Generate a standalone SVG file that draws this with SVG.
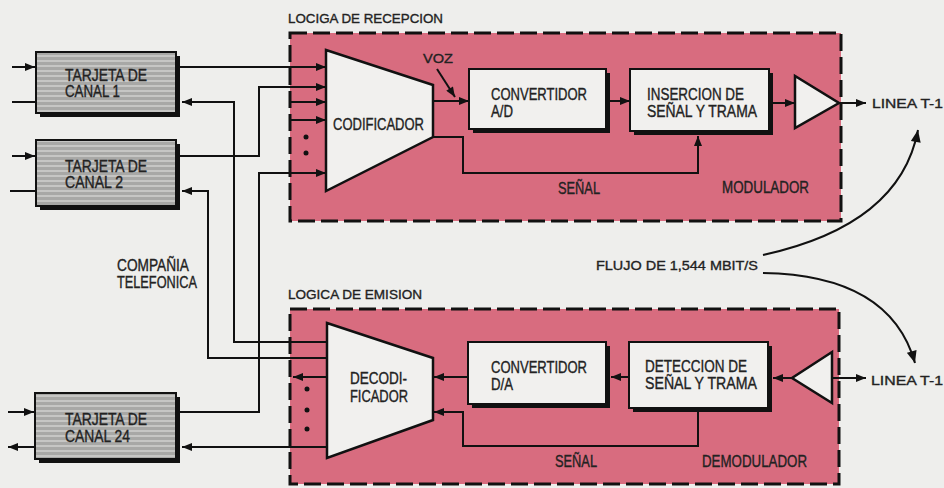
<svg xmlns="http://www.w3.org/2000/svg" width="944" height="488" viewBox="0 0 944 488">
<style>
.t{font-family:"Liberation Sans",Arial,sans-serif;fill:#222;stroke:#222;stroke-width:0.35;font-size:16px}
.h{font-size:13.5px}
.w{stroke:#111;stroke-width:2;fill:none}
.pink{fill:#d86c7f;stroke:#111;stroke-width:3;stroke-dasharray:17 6}
.box{fill:#f1f0ee;stroke:#111;stroke-width:2}
.sh{fill:#111}
.card{fill:url(#stripes);stroke:#111;stroke-width:2}
.tri{fill:#f1f0ee;stroke:#111;stroke-width:2.5}
.dot{fill:#111}
</style>
<defs>
<pattern id="stripes" width="8" height="5" patternUnits="userSpaceOnUse">
<rect width="8" height="5" fill="#a8a8a6"/>
<rect y="0" width="8" height="2" fill="#c6c6c4"/>
</pattern>
<marker id="a" viewBox="0 0 10 8" refX="10" refY="4" markerWidth="11" markerHeight="8" markerUnits="userSpaceOnUse" orient="auto">
<path d="M0,0 L10,4 L0,8 z" fill="#111"/>
</marker>
<marker id="b" viewBox="0 0 12 10" refX="12" refY="5" markerWidth="14" markerHeight="10" markerUnits="userSpaceOnUse" orient="auto">
<path d="M0,0 L12,5 L0,10 z" fill="#111"/>
</marker>
</defs>
<rect width="944" height="488" fill="#eeeeec"/>

<g id="recepcion">
<rect class="pink" x="290" y="33" width="551" height="188"/>
<text class="t h" x="288" y="23" textLength="155" lengthAdjust="spacingAndGlyphs">LOCIGA DE RECEPCION</text>
<text class="t" x="558" y="194" textLength="42" lengthAdjust="spacingAndGlyphs">SEÑAL</text>
<text class="t" x="722" y="193" textLength="87" lengthAdjust="spacingAndGlyphs">MODULADOR</text>
</g>
<g id="emision">
<rect class="pink" x="290" y="309" width="549" height="175"/>
<text class="t h" x="288" y="299" textLength="134" lengthAdjust="spacingAndGlyphs">LOGICA DE EMISION</text>
<text class="t" x="555" y="467" textLength="42" lengthAdjust="spacingAndGlyphs">SEÑAL</text>
<text class="t" x="702" y="467" textLength="105" lengthAdjust="spacingAndGlyphs">DEMODULADOR</text>
</g>

<g id="tarjeta1">
<rect class="sh" x="40" y="56" width="140" height="61"/>
<rect class="card" x="36" y="52" width="140" height="61"/>
<text class="t" x="65" y="81" textLength="82" lengthAdjust="spacingAndGlyphs">TARJETA DE</text>
<text class="t" x="65" y="97" textLength="55" lengthAdjust="spacingAndGlyphs">CANAL 1</text>
</g>
<g id="tarjeta2">
<rect class="sh" x="40" y="144" width="140" height="66"/>
<rect class="card" x="36" y="140" width="140" height="66"/>
<text class="t" x="65" y="172" textLength="82" lengthAdjust="spacingAndGlyphs">TARJETA DE</text>
<text class="t" x="65" y="188" textLength="58" lengthAdjust="spacingAndGlyphs">CANAL 2</text>
</g>
<g id="tarjeta24">
<rect class="sh" x="39" y="397" width="141" height="66"/>
<rect class="card" x="35" y="393" width="141" height="66"/>
<text class="t" x="65" y="425" textLength="82" lengthAdjust="spacingAndGlyphs">TARJETA DE</text>
<text class="t" x="65" y="442" textLength="65" lengthAdjust="spacingAndGlyphs">CANAL 24</text>
</g>

<g id="compania">
<text class="t" x="117" y="271" textLength="72" lengthAdjust="spacingAndGlyphs">COMPAÑIA</text>
<text class="t" x="117" y="288" textLength="80" lengthAdjust="spacingAndGlyphs">TELEFONICA</text>
</g>

<g id="codificador">
<polygon class="tri" points="326,50 433,85 433,137 326,191"/>
<text class="t" x="333" y="130" textLength="91" lengthAdjust="spacingAndGlyphs">CODIFICADOR</text>
</g>
<g id="convertidorAD">
<rect class="sh" x="473" y="73" width="137" height="60"/>
<rect class="box" x="469" y="69" width="137" height="60"/>
<text class="t" x="491" y="100" textLength="96" lengthAdjust="spacingAndGlyphs">CONVERTIDOR</text>
<text class="t" x="491" y="117" textLength="22" lengthAdjust="spacingAndGlyphs">A/D</text>
</g>
<g id="insercion">
<rect class="sh" x="634" y="73" width="139" height="62"/>
<rect class="box" x="630" y="69" width="139" height="62"/>
<text class="t" x="647" y="100" textLength="97" lengthAdjust="spacingAndGlyphs">INSERCION DE</text>
<text class="t" x="647" y="117" textLength="110" lengthAdjust="spacingAndGlyphs">SEÑAL Y TRAMA</text>
</g>
<g id="ampTx">
<polygon class="tri" points="795,76 795,128 839,103"/>
</g>
<g id="lineaTx">
<text class="t h" x="872" y="108" textLength="71" lengthAdjust="spacingAndGlyphs">LINEA T-1</text>
</g>

<g id="decodificador">
<polygon class="tri" points="327,323 433,358 433,420 327,458"/>
<text class="t" x="350" y="384" textLength="57" lengthAdjust="spacingAndGlyphs">DECODI-</text>
<text class="t" x="350" y="402" textLength="58" lengthAdjust="spacingAndGlyphs">FICADOR</text>
</g>
<g id="convertidorDA">
<rect class="sh" x="472" y="346" width="138" height="62"/>
<rect class="box" x="468" y="342" width="138" height="62"/>
<text class="t" x="491" y="373" textLength="96" lengthAdjust="spacingAndGlyphs">CONVERTIDOR</text>
<text class="t" x="491" y="390" textLength="22" lengthAdjust="spacingAndGlyphs">D/A</text>
</g>
<g id="deteccion">
<rect class="sh" x="633" y="346" width="139" height="66"/>
<rect class="box" x="629" y="342" width="139" height="66"/>
<text class="t" x="645" y="372" textLength="102" lengthAdjust="spacingAndGlyphs">DETECCION DE</text>
<text class="t" x="645" y="389" textLength="112" lengthAdjust="spacingAndGlyphs">SEÑAL Y TRAMA</text>
</g>
<g id="ampRx">
<polygon class="tri" points="832,352 832,403 792,378"/>
</g>
<g id="lineaRx">
<text class="t h" x="871" y="385" textLength="72" lengthAdjust="spacingAndGlyphs">LINEA T-1</text>
</g>
<g id="flujo">
<text class="t h" x="596" y="270" textLength="162" lengthAdjust="spacingAndGlyphs">FLUJO DE 1,544 MBIT/S</text>
</g>
<g id="voz">
<text class="t h" x="423" y="63" textLength="30" lengthAdjust="spacingAndGlyphs">VOZ</text>
</g>

<g id="connectors">
<line class="w" x1="12" y1="67" x2="35" y2="67" marker-end="url(#a)"/>
<line class="w" x1="12" y1="102" x2="36" y2="102"/>
<line class="w" x1="12" y1="156" x2="35" y2="156" marker-end="url(#a)"/>
<line class="w" x1="10" y1="191" x2="36" y2="191"/>
<line class="w" x1="8" y1="412" x2="34" y2="412" marker-end="url(#a)"/>
<line class="w" x1="35" y1="447" x2="8" y2="447" marker-end="url(#a)"/>
<line class="w" x1="180" y1="67" x2="326" y2="67" marker-end="url(#a)"/>
<polyline class="w" points="180,156 259,156 259,87 326,87" marker-end="url(#a)"/>
<polyline class="w" points="180,412 259,412 259,173 326,173" marker-end="url(#a)"/>
<line class="w" x1="290" y1="102" x2="326" y2="102" marker-end="url(#a)"/>
<line class="w" x1="290" y1="120" x2="326" y2="120" marker-end="url(#a)"/>
<circle class="dot" cx="306" cy="137" r="2.5"/>
<circle class="dot" cx="306" cy="153" r="2.5"/>
<polyline class="w" points="327,342 234,342 234,102 182,102" marker-end="url(#a)"/>
<polyline class="w" points="327,358 208,358 208,191 182,191" marker-end="url(#a)"/>
<line class="w" x1="327" y1="447" x2="182" y2="447" marker-end="url(#a)"/>
<line class="w" x1="327" y1="377" x2="293" y2="377" marker-end="url(#a)"/>
<circle class="dot" cx="307" cy="389" r="2.5"/>
<circle class="dot" cx="307" cy="410" r="2.5"/>
<circle class="dot" cx="307" cy="429" r="2.5"/>
<line class="w" x1="433" y1="101" x2="469" y2="101" marker-end="url(#a)"/>
<line class="w" x1="437" y1="69" x2="455" y2="97" marker-end="url(#a)"/>
<line class="w" x1="610" y1="101" x2="630" y2="101" marker-end="url(#a)"/>
<line class="w" x1="773" y1="103" x2="795" y2="103" marker-end="url(#a)"/>
<line class="w" x1="839" y1="103" x2="866" y2="103" marker-end="url(#a)"/>
<polyline class="w" points="433,137 463,137 463,173 698,173 698,136" marker-end="url(#a)"/>
<line class="w" x1="832" y1="378" x2="866" y2="378" marker-end="url(#a)"/>
<line class="w" x1="792" y1="378" x2="773" y2="378" marker-end="url(#a)"/>
<line class="w" x1="629" y1="377" x2="611" y2="377" marker-end="url(#a)"/>
<line class="w" x1="468" y1="377" x2="434" y2="377" marker-end="url(#a)"/>
<polyline class="w" points="698,412 698,446 463,446 463,412 434,412" marker-end="url(#a)"/>
<path class="w" d="M763,255 Q900,225 918,130" marker-end="url(#b)"/>
<path class="w" d="M763,273 Q890,275 915,363" marker-end="url(#b)"/>
</g>
</svg>
